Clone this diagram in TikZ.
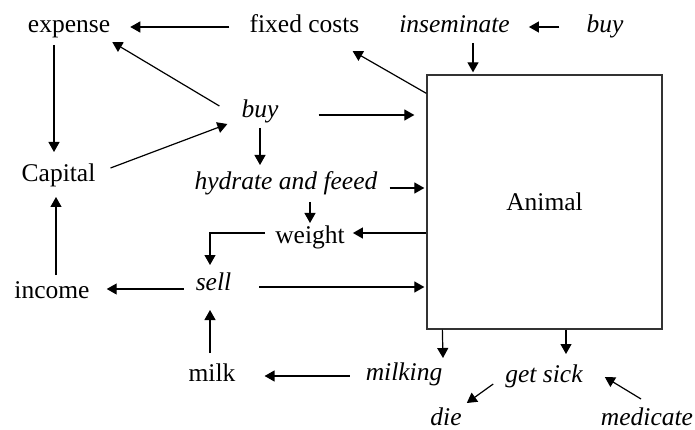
\documentclass[tikz,border=0pt]{standalone}
\usepackage{fontspec}
\setmainfont{Liberation Serif}
\usetikzlibrary{arrows.meta,calc}
\begin{document}
\begin{tikzpicture}[x=1pt,y=-1pt,
  txt/.style={anchor=base,inner sep=0pt,font=\fontsize{25.5}{30}\selectfont},
  itx/.style={txt,font=\fontsize{25.5}{30}\selectfont\itshape},
  arr/.style={-{Triangle[length=10pt,width=11pt]},line width=1.2pt},
  boxst/.style={draw=black!80,line width=1.3pt,minimum width=235pt,minimum height=254pt,inner sep=0pt,font=\fontsize{25.5}{30}\selectfont}]
\useasboundingbox (0,0) rectangle (695,430);

% labels
\node[txt] (exp)  at (69,33)    {expense};
\node[txt] (fix)  at (304.5,33) {fixed costs};
\node[itx] (ins)  at (454.5,33) {inseminate};
\node[itx] (buyA) at (605,33)   {buy};
\node[itx] (buyB) at (260,118)  {buy};
\node[txt] (cap)  at (58.5,182) {Capital};
\node[itx] (hyd)  at (286,190)  {hydrate and feeed};
\node[txt] (wgt)  at (310,243)  {weight};
\node[itx] (sell) at (213.5,290){sell};
\node[txt] (inc)  at (52,298)   {income};
\node[txt] (milk) at (212,381)  {milk};
\node[itx] (mlk)  at (404,380)  {milking};
\node[itx] (sick) at (544,382)  {get sick};
\node[itx] (die)  at (446,425)  {die};
\node[itx] (med)  at (647,425)  {medicate};

% the animal block
\node[boxst] (box) at (544.5,202) {Animal};

% connectors
\draw[arr] ($(fix.base west)+(-20,-6)$) -- ($(exp.base east)+(20,-6)$);
\draw[arr] ($(buyA.base west)+(-27,-6)$) -- ($(ins.base east)+(19,-6)$);
\draw[arr] ($(ins.base)+(18.5,10)$) -- ($(box.north)+(-71.5,-2)$);
\draw[arr] ($(box.north west)+(0,19)$) -- ($(fix.base east)+(-7,18)$);
\draw[arr] ($(buyB.base east)+(40,-3)$) -- ($(box.west)+(-12,-87)$);
\draw[arr] ($(buyB.base west)+(-22,-12)$) -- ($(exp.base east)+(2,9)$);
\draw[arr] ($(cap.base east)+(15,-14)$) -- ($(buyB.base west)+(-14,6)$);
\draw[arr] ($(exp.base)+(-15,12)$) -- ($(cap.base)+(-4.5,-30)$);
\draw[arr] ($(buyB.base)+(0,10)$) -- ($(hyd.base)+(-26,-25)$);
\draw[arr] ($(hyd.base east)+(12,-2)$) -- ($(box.west)+(-2,-14)$);
\draw[arr] ($(hyd.base)+(24,12)$) -- ($(wgt.base)+(0,-20)$);
\draw[arr] ($(box.west)+(0,31)$) -- ($(wgt.base east)+(8,-10)$);
\draw[arr] ($(wgt.base west)+(-10,-10)$) -| ($(sell.base)+(-3.5,-25)$);
\draw[arr] ($(sell.base west)+(-12,-1)$) -- ($(inc.base east)+(17,-9)$);
\draw[arr] ($(inc.base)+(4,-23)$) -- ($(cap.base)+(-2.5,15)$);
\draw[arr] ($(sell.base east)+(28,-3)$) -- ($(box.west)+(-2,85)$);
\draw[arr] ($(milk.base)+(-2,-28)$) -- ($(sell.base)+(-3.5,20)$);
\draw[arr] ($(mlk.base west)+(-16,-4)$) -- ($(milk.base east)+(29,-5)$);
\draw[arr] ($(box.south west)+(16,0)$) -- ($(mlk.base)+(39,-22)$);
\draw[arr] ($(box.south)+(21.5,0)$) -- ($(sick.base)+(22,-28)$);
\draw[arr] ($(sick.base west)+(-12,2)$) -- ($(die.base east)+(5,-22)$);
\draw[arr] ($(med.base)+(-6,-26)$) -- ($(sick.base east)+(22,-5)$);
\end{tikzpicture}
\end{document}
